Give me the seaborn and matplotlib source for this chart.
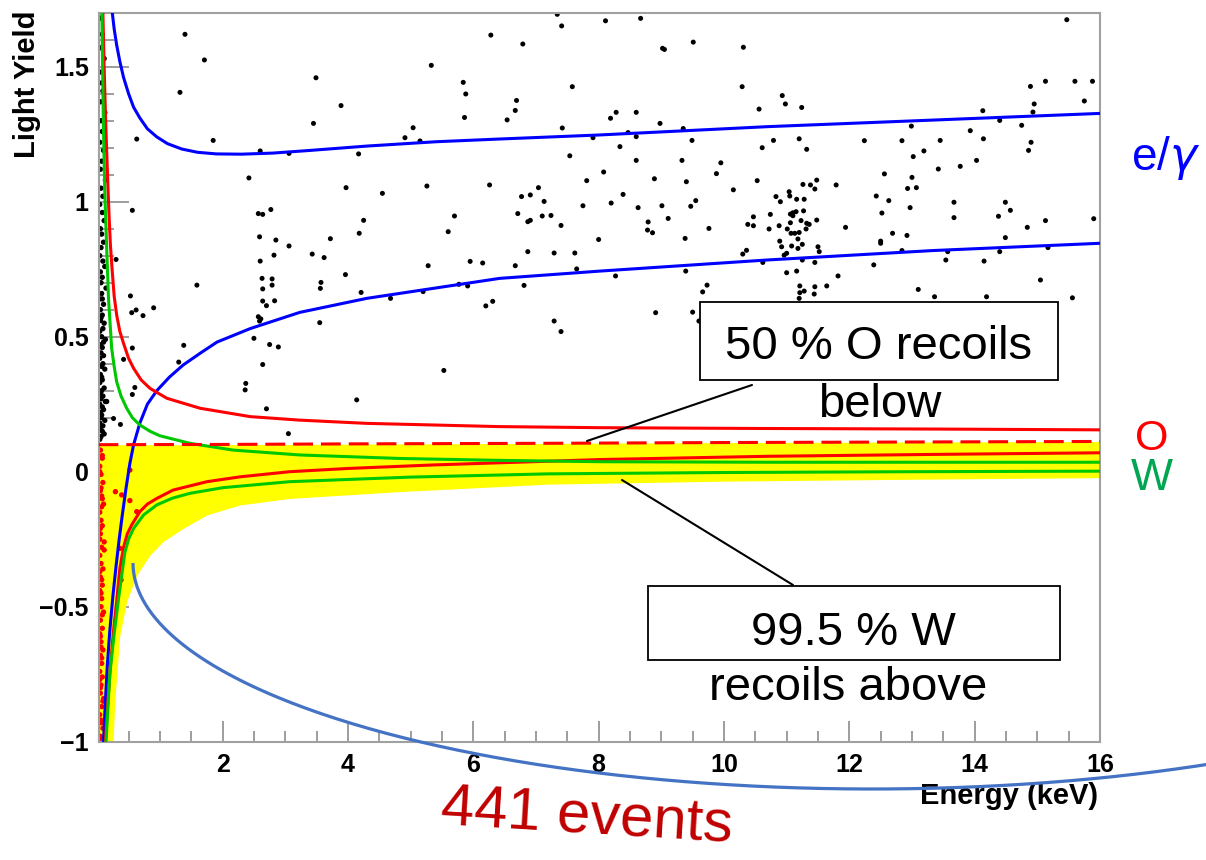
import numpy as np
import pandas as pd
import matplotlib
matplotlib.use("Agg")
import matplotlib.pyplot as plt
import seaborn as sns
from matplotlib.patches import Rectangle
from matplotlib.lines import Line2D
from matplotlib.ticker import MultipleLocator, FixedLocator, FuncFormatter

# ---------------- data ----------------
# e/gamma band, upper and lower boundary
eg_up_E = [0.24, 0.27, 0.31, 0.36, 0.42, 0.50, 0.58, 0.68, 0.80, 0.95, 1.12, 1.35, 1.60, 1.90,
           2.30, 2.80, 3.40, 4.30, 5.40, 6.40, 8.00, 10.70, 13.30, 16.00]
eg_up_Y = [1.70, 1.64, 1.58, 1.52, 1.46, 1.40, 1.35, 1.31, 1.27, 1.24, 1.215, 1.195, 1.183, 1.177,
           1.176, 1.180, 1.190, 1.206, 1.222, 1.232, 1.247, 1.278, 1.302, 1.327]
eg_lo_E = [0.10, 0.13, 0.16, 0.20, 0.25, 0.30, 0.35, 0.40, 0.46, 0.52, 0.58, 0.68, 0.80, 0.95,
           1.15, 1.37, 1.65, 1.91, 2.44, 3.23, 4.30, 5.36, 6.42, 8.02, 10.68, 13.33, 16.00]
eg_lo_Y = [-1.00, -0.85, -0.72, -0.59, -0.46, -0.35, -0.25, -0.16, -0.06, 0.03, 0.10, 0.18, 0.25, 0.30,
           0.35, 0.395, 0.44, 0.48, 0.53, 0.59, 0.642, 0.679, 0.716, 0.743, 0.784, 0.819, 0.846]

# O recoil band (solid red) and 50 % O line (dashed red)
o_up_E = [0.09, 0.11, 0.13, 0.15, 0.17, 0.19, 0.21, 0.24, 0.27, 0.31, 0.36, 0.42, 0.50, 0.58, 0.70,
          0.84, 1.11, 1.64, 2.44, 3.23, 4.30, 5.36, 6.42, 8.02, 10.68, 13.33, 16.00]
o_up_Y = [1.70, 1.50, 1.33, 1.19, 1.06, 0.94, 0.84, 0.74, 0.65, 0.58, 0.52, 0.475, 0.42, 0.383, 0.34,
          0.309, 0.272, 0.235, 0.204, 0.191, 0.179, 0.173, 0.167, 0.163, 0.160, 0.158, 0.155]
o_lo_E = [0.13, 0.17, 0.21, 0.26, 0.31, 0.36, 0.42, 0.48, 0.55, 0.68, 0.80, 0.95, 1.21, 1.75, 2.28,
          3.07, 4.00, 5.36, 8.02, 10.68, 13.33, 16.00]
o_lo_Y = [-1.00, -0.85, -0.72, -0.59, -0.48, -0.36, -0.28, -0.23, -0.197, -0.148, -0.12, -0.099,
          -0.068, -0.037, -0.019, 0.0, 0.012, 0.025, 0.045, 0.057, 0.064, 0.070]
o_mid_E = [0.02, 2.0, 4.0, 7.0, 10.0, 13.0, 16.0]
o_mid_Y = [0.100, 0.101, 0.103, 0.105, 0.108, 0.110, 0.112]

# W recoil band (green)
w_up_E = [0.075, 0.085, 0.10, 0.12, 0.15, 0.18, 0.23, 0.27, 0.31, 0.38, 0.47, 0.56, 0.68, 0.84, 1.00,
          1.48, 2.17, 3.23, 4.83, 6.42, 8.02, 10.68, 13.33, 16.00]
w_up_Y = [1.70, 1.50, 1.26, 1.04, 0.83, 0.64, 0.457, 0.39, 0.333, 0.28, 0.235, 0.20, 0.173, 0.15, 0.133,
          0.105, 0.080, 0.062, 0.049, 0.042, 0.037, 0.035, 0.035, 0.035]
w_lo_E = [0.14, 0.20, 0.27, 0.34, 0.44, 0.50, 0.58, 0.74, 0.95, 1.20, 1.48, 2.01, 3.07, 5.0, 7.2,
          10.0, 13.0, 16.0]
w_lo_Y = [-1.00, -0.75, -0.60, -0.47, -0.30, -0.25, -0.21, -0.16, -0.123, -0.098, -0.080, -0.059,
          -0.037, -0.020, -0.008, -0.003, 0.0, 0.002]

# yellow acceptance region
acc_E = [0.02, 0.25, 0.28, 0.36, 0.47, 0.63, 0.84, 1.05, 1.37, 1.75, 2.28, 3.07, 4.8, 7.2, 10.0, 13.0, 16.0]
acc_lo = [-1.02, -1.02, -0.85, -0.605, -0.48, -0.383, -0.309, -0.259, -0.21, -0.16, -0.123, -0.099,
          -0.074, -0.046, -0.035, -0.028, -0.022]
acc_hi = [0.100, 0.100, 0.100, 0.100, 0.100, 0.100, 0.100, 0.100, 0.100, 0.100, 0.101, 0.101,
          0.103, 0.105, 0.108, 0.110, 0.112]

# events (black = outside acceptance, red = inside acceptance)
black_E = [1.40, 1.71, 1.32, 0.63, 1.85, 0.56, 3.49, 3.89, 3.45, 2.60, 3.06, 2.42, 3.97, 4.17, 4.55,
           2.57, 2.64, 2.77, 4.25, 4.18, 2.59, 2.85, 3.72, 5.33, 5.84, 5.88, 5.86, 5.04, 4.91, 5.15,
           5.26, 5.70, 5.60, 6.28, 6.79, 7.34, 7.41, 7.58, 6.69, 6.67, 6.54, 7.42, 7.91, 7.54, 7.81,
           6.26, 7.04, 6.77, 6.91, 7.13, 7.75, 6.71, 6.87, 6.91, 7.10, 7.24, 7.40, 8.00,
           3.06, 0.30, 2.60, 2.82, 3.43, 3.62, 2.63, 2.79, 2.64, 2.79, 1.59, 3.57, 3.56, 3.96, 4.21,
           2.64, 2.70, 2.83, 0.53, 0.55, 0.62, 0.73, 0.90, 2.57, 2.61, 2.59, 3.55, 2.50, 2.75, 2.89,
           1.38, 0.56, 0.42, 1.30, 2.64, 0.60, 0.56, 2.37, 2.36, 5.53, 4.14, 2.70, 3.05, 0.26, 0.37,
           5.28, 5.95, 6.15, 5.77, 5.91, 4.68, 5.20, 6.20, 6.31, 6.67, 6.87, 6.81, 7.29, 7.62, 7.65,
           7.29, 7.40,
           8.11, 8.67, 9.02, 9.05, 9.51, 10.31, 10.29, 10.93, 10.98, 10.56, 11.24, 8.19, 8.28, 8.60,
           8.98, 9.35, 8.47, 8.60, 8.34, 9.49, 8.60, 9.33, 8.08, 8.89, 9.40, 9.88, 9.95, 10.15, 10.53,
           10.61, 10.79, 11.20, 11.32, 8.39, 8.20, 8.63, 9.01, 9.11, 9.47, 9.55, 8.79, 8.78, 8.86,
           9.38, 9.76, 11.26, 11.38, 11.48, 11.45, 11.79, 10.83, 10.90, 11.04, 11.05, 11.16, 11.28,
           10.74, 10.47, 10.38, 10.47, 11.06, 11.10, 11.15, 11.27, 11.10, 11.23, 11.32, 11.36, 11.48,
           11.06, 10.88, 10.72, 11.01, 11.31, 11.07, 11.13, 11.20, 10.89, 11.18, 11.94, 12.24, 12.84,
           12.99, 13.45, 13.02, 13.19, 13.42, 12.56, 13.00, 12.93, 13.07, 12.43, 12.63, 12.52, 12.97,
           12.69, 12.92, 12.50, 13.77, 14.03, 13.67, 13.67, 13.93, 14.14, 14.13, 14.40, 14.75, 14.90,
           14.86, 14.89, 14.95, 14.93, 15.13, 15.60, 15.88, 15.75, 15.47, 14.49, 14.57, 14.38, 15.13,
           14.84, 15.90, 14.49,
           10.30, 10.36, 10.92, 11.08, 11.18, 11.25, 11.50, 11.52, 10.96, 11.00, 10.62, 11.25, 11.45,
           11.00, 11.16, 11.82, 11.21, 11.28, 11.21, 11.45, 11.44, 11.64, 11.20, 8.27, 9.39, 9.73,
           9.66, 8.91, 9.50, 9.60, 12.50, 12.84, 12.39, 13.10, 13.36, 13.54, 13.57, 14.15, 14.19,
           14.40, 15.05, 15.17, 15.56]
black_Y = [1.620, 1.525, 1.405, 1.232, 1.227, 0.968, 1.459, 1.356, 1.290, 1.188, 1.179, 1.088, 1.052,
           1.177, 1.031, 0.956, 0.953, 0.971, 0.931, 0.883, 0.870, 0.858, 0.863, 1.505, 1.442, 1.399,
           1.312, 1.274, 1.237, 1.225, 1.058, 0.947, 0.889, 1.617, 1.584, 1.694, 1.651, 1.426, 1.375,
           1.338, 1.303, 1.273, 1.237, 1.170, 1.078, 1.062, 1.052, 1.019, 1.025, 1.001, 0.985, 0.956,
           0.926, 0.931, 0.947, 0.949, 0.912, 0.860,
           0.836, 0.786, 0.780, 0.802, 0.806, 0.793, 0.716, 0.714, 0.677, 0.691, 0.691, 0.701, 0.679,
           0.730, 0.664, 0.632, 0.615, 0.633, 0.651, 0.589, 0.599, 0.578, 0.607, 0.574, 0.566, 0.558,
           0.552, 0.494, 0.471, 0.462, 0.468, 0.458, 0.416, 0.406, 0.397, 0.312, 0.286, 0.327, 0.303,
           0.375, 0.266, 0.233, 0.141, 0.197, 0.175, 0.763, 0.779, 0.773, 0.694, 0.688, 0.642, 0.667,
           0.614, 0.631, 0.763, 0.815, 0.690, 0.810, 0.810, 0.751, 0.558, 0.519,
           1.670, 1.679, 1.568, 1.564, 1.591, 1.572, 1.426, 1.393, 1.362, 1.343, 1.349, 1.309, 1.331,
           1.331, 1.290, 1.271, 1.256, 1.241, 1.204, 1.227, 1.153, 1.153, 1.110, 1.085, 1.074, 1.104,
           1.144, 1.044, 1.078, 1.200, 1.227, 1.233, 1.194, 1.027, 0.995, 0.978, 0.985, 0.938, 0.983,
           1.004, 0.925, 0.895, 0.885, 0.864, 0.901, 1.064, 1.062, 1.080, 1.047, 1.062, 1.019, 1.000,
           1.037, 1.021, 1.009, 1.009, 0.953, 0.944, 0.916, 0.911, 0.954, 0.959, 0.963, 0.966, 0.948,
           0.930, 0.920, 0.916, 0.932, 0.922, 0.911, 0.899, 0.899, 0.899, 0.883, 0.883, 0.886, 0.854,
           0.862, 0.905, 1.226, 1.226, 1.280, 1.227, 1.167, 1.188, 1.121, 1.103, 1.090, 1.049, 1.052,
           1.021, 1.004, 0.958, 0.978, 0.883, 0.875, 0.854, 1.131, 1.153, 0.998, 0.941, 1.263, 1.233,
           1.337, 1.301, 1.283, 1.220, 1.190, 1.427, 1.362, 1.332, 1.446, 1.446, 1.446, 1.373, 1.674,
           0.998, 0.968, 0.946, 0.930, 0.905, 0.937, 0.867,
           0.806, 0.820, 0.833, 0.836, 0.827, 0.842, 0.833, 0.815, 0.802, 0.809, 0.775, 0.784, 0.775,
           0.737, 0.743, 0.725, 0.688, 0.669, 0.663, 0.685, 0.658, 0.688, 0.642, 0.725, 0.743, 0.691,
           0.666, 0.589, 0.591, 0.558, 0.846, 0.819, 0.766, 0.675, 0.648, 0.784, 0.815, 0.780, 0.648,
           0.815, 0.710, 0.830, 0.644]

# dense column of low-energy events (black part above the O median line)
col_E = [0.05, 0.08, 0.06, 0.11, 0.04, 0.07, 0.09, 0.05, 0.12, 0.06, 0.08, 0.04, 0.10, 0.07, 0.05,
         0.13, 0.06, 0.09, 0.04, 0.08, 0.11, 0.05, 0.07, 0.10, 0.06, 0.04, 0.09, 0.12, 0.05, 0.08,
         0.06, 0.14, 0.07, 0.04, 0.10, 0.05, 0.08, 0.06, 0.11, 0.09, 0.04, 0.07, 0.13, 0.05, 0.08,
         0.06, 0.10, 0.04, 0.09, 0.07, 0.12, 0.05, 0.06, 0.08, 0.04, 0.11, 0.07, 0.05, 0.09, 0.06,
         0.15, 0.04, 0.08, 0.10, 0.05, 0.07, 0.06, 0.12, 0.04, 0.09, 0.05, 0.08, 0.11, 0.06, 0.04,
         0.07, 0.10, 0.05, 0.13, 0.08]
col_Y = [1.68, 1.62, 1.57, 1.53, 1.48, 1.44, 1.41, 1.37, 1.33, 1.30, 1.26, 1.22, 1.19, 1.15, 1.12,
         1.08, 1.05, 1.02, 0.99, 0.96, 0.93, 0.90, 0.88, 0.85, 0.83, 0.80, 0.78, 0.76, 0.74, 0.72,
         0.70, 0.68, 0.66, 0.64, 0.62, 0.60, 0.58, 0.57, 0.55, 0.53, 0.52, 0.50, 0.49, 0.47, 0.46,
         0.44, 0.43, 0.42, 0.40, 0.39, 0.38, 0.36, 0.35, 0.34, 0.33, 0.31, 0.30, 0.29, 0.28, 0.27,
         0.26, 0.25, 0.24, 0.23, 0.22, 0.21, 0.20, 0.19, 0.18, 0.17, 0.16, 0.15, 0.14, 0.13, 0.12,
         0.35, 0.48, 0.56, 0.26, 0.64]

red_E = [0.05, 0.08, 0.04, 0.06, 0.09, 0.05, 0.07, 0.10, 0.04, 0.06, 0.08, 0.05, 0.11, 0.07, 0.04,
         0.06, 0.09, 0.05, 0.08, 0.04, 0.07, 0.06, 0.10, 0.05, 0.08, 0.04, 0.06, 0.09, 0.05, 0.07,
         0.04, 0.08, 0.06, 0.05, 0.10, 0.07, 0.04, 0.06, 0.09, 0.05, 0.08, 0.04, 0.06, 0.07, 0.05,
         0.11, 0.04, 0.06, 0.08, 0.05, 0.07, 0.04, 0.09, 0.06, 0.05, 0.08, 0.04, 0.07, 0.06, 0.05,
         0.52, 0.29, 0.39, 0.52, 0.63, 0.36, 0.38]
red_Y = [0.08, 0.05, 0.02, -0.01, -0.04, -0.07, -0.09, -0.12, -0.15, -0.18, -0.20, -0.23, -0.26,
         -0.28, -0.31, -0.34, -0.36, -0.39, -0.42, -0.44, -0.47, -0.50, -0.52, -0.55, -0.58, -0.60,
         -0.63, -0.66, -0.68, -0.71, -0.74, -0.76, -0.79, -0.82, -0.84, -0.87, -0.90, -0.92, -0.95,
         -0.98, 0.06, 0.00, -0.06, -0.13, -0.21, -0.29, -0.37, -0.45, -0.53, -0.61, -0.69, -0.77,
         -0.85, -0.93, -0.99, -0.10, -0.25, -0.40, -0.65, -0.80,
         0.006, -0.074, -0.086, -0.107, -0.148, -0.284, -0.401]

x_ticks = [2, 4, 6, 8, 10, 12, 14, 16]
y_ticks = [-1, -0.5, 0, 0.5, 1, 1.5]

# ---------------- figure ----------------
sns.set_theme(style="white")
plt.rcParams['font.family'] = ['Liberation Sans', 'DejaVu Sans']
plt.rcParams['mathtext.fontset'] = 'dejavusans'
plt.rcParams['text.color'] = 'black'
plt.rcParams['xtick.labelcolor'] = 'black'
plt.rcParams['ytick.labelcolor'] = 'black'

W, H = 1206, 860
fig = plt.figure(figsize=(W / 100, H / 100), dpi=100)
fig.patch.set_facecolor('white')


def fx(px):
    return px / W


def fy(py):
    return 1 - py / H


ax_l, ax_r, ax_t, ax_b = 98.5, 1100, 12.7, 741.7
ax = fig.add_axes([fx(ax_l), fy(ax_b), (ax_r - ax_l) / W, (ax_b - ax_t) / H])
ax.set_facecolor('white')

LW = 2.2
ax.fill_between(acc_E, acc_lo, acc_hi, color='#FFFF00', lw=0, zorder=1)

sns.scatterplot(x=black_E, y=black_Y, color='black', s=13, edgecolor='none', ax=ax, zorder=2)
sns.scatterplot(x=col_E, y=col_Y, color='black', s=15, edgecolor='none', ax=ax, zorder=2)
sns.scatterplot(x=red_E, y=red_Y, color='#FF0000', s=15, edgecolor='none', ax=ax, zorder=2)

def curve(E, Y, color, **kw):
    sns.lineplot(x=E, y=Y, sort=False, estimator=None, color=color, lw=LW, ax=ax, zorder=3, **kw)

curve(eg_up_E, eg_up_Y, '#0000FF')
curve(eg_lo_E, eg_lo_Y, '#0000FF')
curve(o_up_E, o_up_Y, '#FF0000')
curve(o_lo_E, o_lo_Y, '#FF0000')
curve(w_up_E, w_up_Y, '#00C800')
curve(w_lo_E, w_lo_Y, '#00C800')
ax.plot(o_mid_E, o_mid_Y, color='#FF0000', lw=LW, dashes=(6.5, 2.6), zorder=3)

ax.set_xlim(0.02, 16)
ax.set_ylim(-1.0, 1.7)
ax.set_xlabel('')
ax.set_ylabel('')

ax.xaxis.set_major_locator(FixedLocator(x_ticks))
ax.xaxis.set_minor_locator(MultipleLocator(0.5))
ax.yaxis.set_major_locator(FixedLocator(y_ticks))
ax.yaxis.set_minor_locator(MultipleLocator(0.1))
fmt = FuncFormatter(lambda v, p: ('%g' % v).replace('-', '\u2212'))
ax.xaxis.set_major_formatter(fmt)
ax.yaxis.set_major_formatter(fmt)

tick_col = '#8c8c8c'
ax.tick_params(axis='both', which='both', direction='in', color=tick_col, width=1.2,
               top=False, right=False, left=True, bottom=True, labelsize=18, labelcolor='black')
ax.tick_params(axis='x', which='major', length=15, pad=8)
ax.tick_params(axis='x', which='minor', length=8)
ax.tick_params(axis='y', which='major', length=21.6, pad=7)
ax.tick_params(axis='y', which='minor', length=10.8)
for lab in ax.get_xticklabels() + ax.get_yticklabels():
    lab.set_fontweight('bold')
for s in ax.spines.values():
    s.set_color('#a0a0a0')
    s.set_linewidth(1.5)
    s.set_visible(True)

# axis titles (ROOT style, at the axis ends)
fig.text(fx(1098), fy(782), 'Energy (keV)', ha='right', va='top', fontsize=21, fontweight='bold',
         color='black')
fig.text(fx(27), fy(10), 'Light Yield', ha='center', va='top', rotation=90, fontsize=21,
         fontweight='bold', color='black')

# annotation boxes
ann_font = 34
fig.add_artist(Rectangle((fx(700), fy(380)), (1058 - 700) / W, (380 - 302) / H,
                         transform=fig.transFigure, facecolor='white', edgecolor='black', lw=1.3,
                         zorder=5))
fig.text(fx(879), fy(359), '50 % O recoils', ha='center', va='baseline', fontsize=ann_font,
         color='black', zorder=6)
fig.text(fx(880), fy(417), 'below', ha='center', va='baseline', fontsize=ann_font, color='black',
         zorder=6)
fig.add_artist(Line2D([fx(752), fx(587)], [fy(385), fy(441)], transform=fig.transFigure,
                      color='black', lw=1.5, zorder=5))

fig.add_artist(Rectangle((fx(648), fy(660)), (1060 - 648) / W, (660 - 586) / H,
                         transform=fig.transFigure, facecolor='white', edgecolor='black', lw=1.3,
                         zorder=5))
fig.text(fx(853), fy(645), '99.5 % W', ha='center', va='baseline', fontsize=ann_font, color='black',
         zorder=6)
fig.text(fx(848), fy(700), 'recoils above', ha='center', va='baseline', fontsize=ann_font,
         color='black', zorder=6)
fig.add_artist(Line2D([fx(622), fx(793)], [fy(480), fy(585)], transform=fig.transFigure,
                      color='black', lw=1.5, zorder=5))

# band labels
fig.text(fx(1131), fy(170), r'e/$\gamma$', ha='left', va='baseline', fontsize=33, color='#0000FF')
fig.text(fx(1152), fy(450), 'O', ha='center', va='baseline', fontsize=31, color='#FF0000')
fig.text(fx(1152), fy(490), 'W', ha='center', va='baseline', fontsize=32, color='#00A651')

# blue arc and event count
t = np.linspace(np.pi, 2 * np.pi * 0.8255, 200)
cx, cy, a, b = 872, 563, 739, 226
arc_x = cx + a * np.cos(t)
arc_y = cy - b * np.sin(t)
fig.add_artist(Line2D(fx(arc_x), fy(arc_y), transform=fig.transFigure, color='#4472C4', lw=2.3,
                      zorder=6, solid_capstyle='butt'))
fig.text(fx(440), fy(824), '441 events', ha='left', va='baseline', fontsize=43, color='#C00000',
         rotation=-3.5, rotation_mode='anchor')

fig.savefig('out.png', dpi=100, facecolor='white')
